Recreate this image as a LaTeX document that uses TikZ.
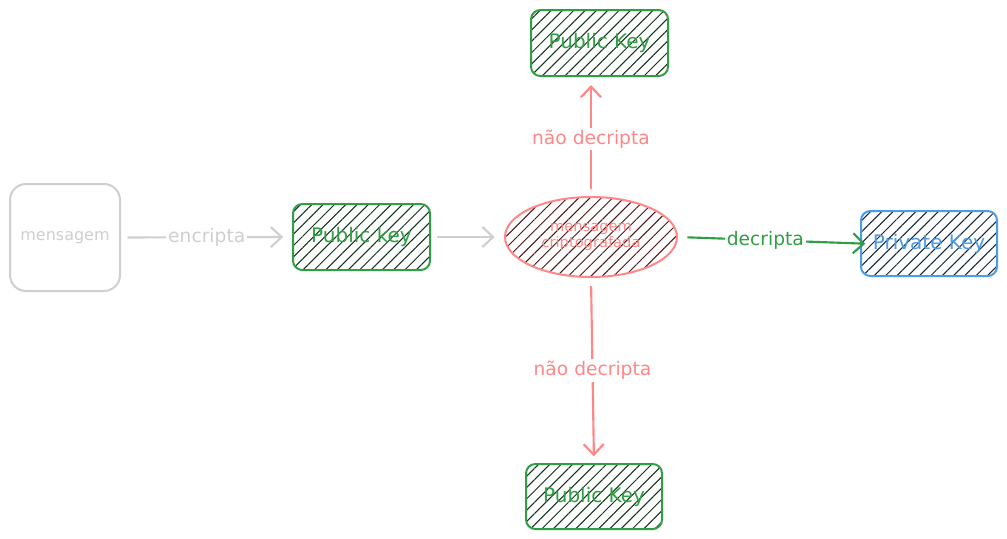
\documentclass[tikz,border=0pt]{standalone}
\usepackage{fontspec}
\setmainfont{DejaVu Sans}
\usetikzlibrary{arrows.meta, patterns.meta, shapes.geometric}
\definecolor{keygreen}{HTML}{2F9E44}
\definecolor{hatchgreen}{HTML}{0E3317}
\definecolor{cryptred}{HTML}{FF8787}
\definecolor{hatchred}{HTML}{4A1414}
\definecolor{privblue}{HTML}{4A9BE8}
\definecolor{hatchblue}{HTML}{0F2438}
\definecolor{msggray}{HTML}{CFCFCF}
\tikzset{
  keybox/.style = {draw=keygreen, rounded corners=7pt, line width=1.5pt,
    minimum width=102.75pt, minimum height=49.5pt, text=keygreen,
    font=\fontsize{15}{17}\selectfont,
    pattern={Lines[angle=45, distance=6pt, line width=0.75pt]}, pattern color=hatchgreen},
  arr/.style = {-{Straight Barb[length=8pt, width=15pt]}, line width=1.6pt},
  lbl/.style = {fill=white, inner sep=1.5pt, font=\fontsize{14}{16}\selectfont}
}

\begin{document}
\begin{tikzpicture}[x=0.75pt, y=-0.75pt]
\useasboundingbox[fill=white] (0,0) rectangle (1007,539);
% left side
\node[draw=msggray, rounded corners=12pt, line width=1.5pt, minimum width=82.5pt,
  minimum height=80.25pt, text=msggray, font=\fontsize{12}{14}\selectfont] (msg) at (65,237.5) {mensagem};
\node[keybox] (pkmid) at (361.5,237) {Public key};
% cipher text
\node[ellipse, draw=cryptred, line width=1.5pt, minimum width=129pt, minimum height=60pt,
  text=cryptred, align=center, font=\fontsize{11}{10.5}\selectfont,
  pattern={Lines[angle=45, distance=6pt, line width=0.75pt]}, pattern color=hatchred] (cipher) at (591,237) {mensagem\\criptografada};
% keys around it
\node[keybox] (pktop) at (599.5,43) {Public Key};
\node[keybox, minimum width=102pt, minimum height=48.75pt] (pkbot) at (594,496.5) {Public Key};
\node[keybox, draw=privblue, text=privblue, minimum width=102pt, minimum height=48.75pt,
  pattern color=hatchblue] (priv) at (929,243.5) {Private Key};

\draw[arr, msggray, shorten <=5pt, shorten >=7pt] (msg.east) -- (pkmid.west)
  node[lbl, pos=.5, text=msggray]{encripta};
\draw[arr, msggray, shorten <=5pt, shorten >=7pt] (pkmid.east) -- (cipher.west);
\draw[arr, keygreen, shorten <=7pt, shorten >=-4pt] (cipher.east) -- (priv.west)
  node[lbl, pos=.48, text=keygreen]{decripta};
\draw[arr, cryptred, shorten <=5pt, shorten >=6pt] (cipher.north) -- (pktop.south -| cipher.north)
  node[lbl, pos=.48, text=cryptred]{não decripta};
\draw[arr, cryptred, shorten <=6pt, shorten >=5pt] (cipher.south) -- (pkbot.north)
  node[lbl, pos=.5, text=cryptred]{não decripta};
\end{tikzpicture}
\end{document}
